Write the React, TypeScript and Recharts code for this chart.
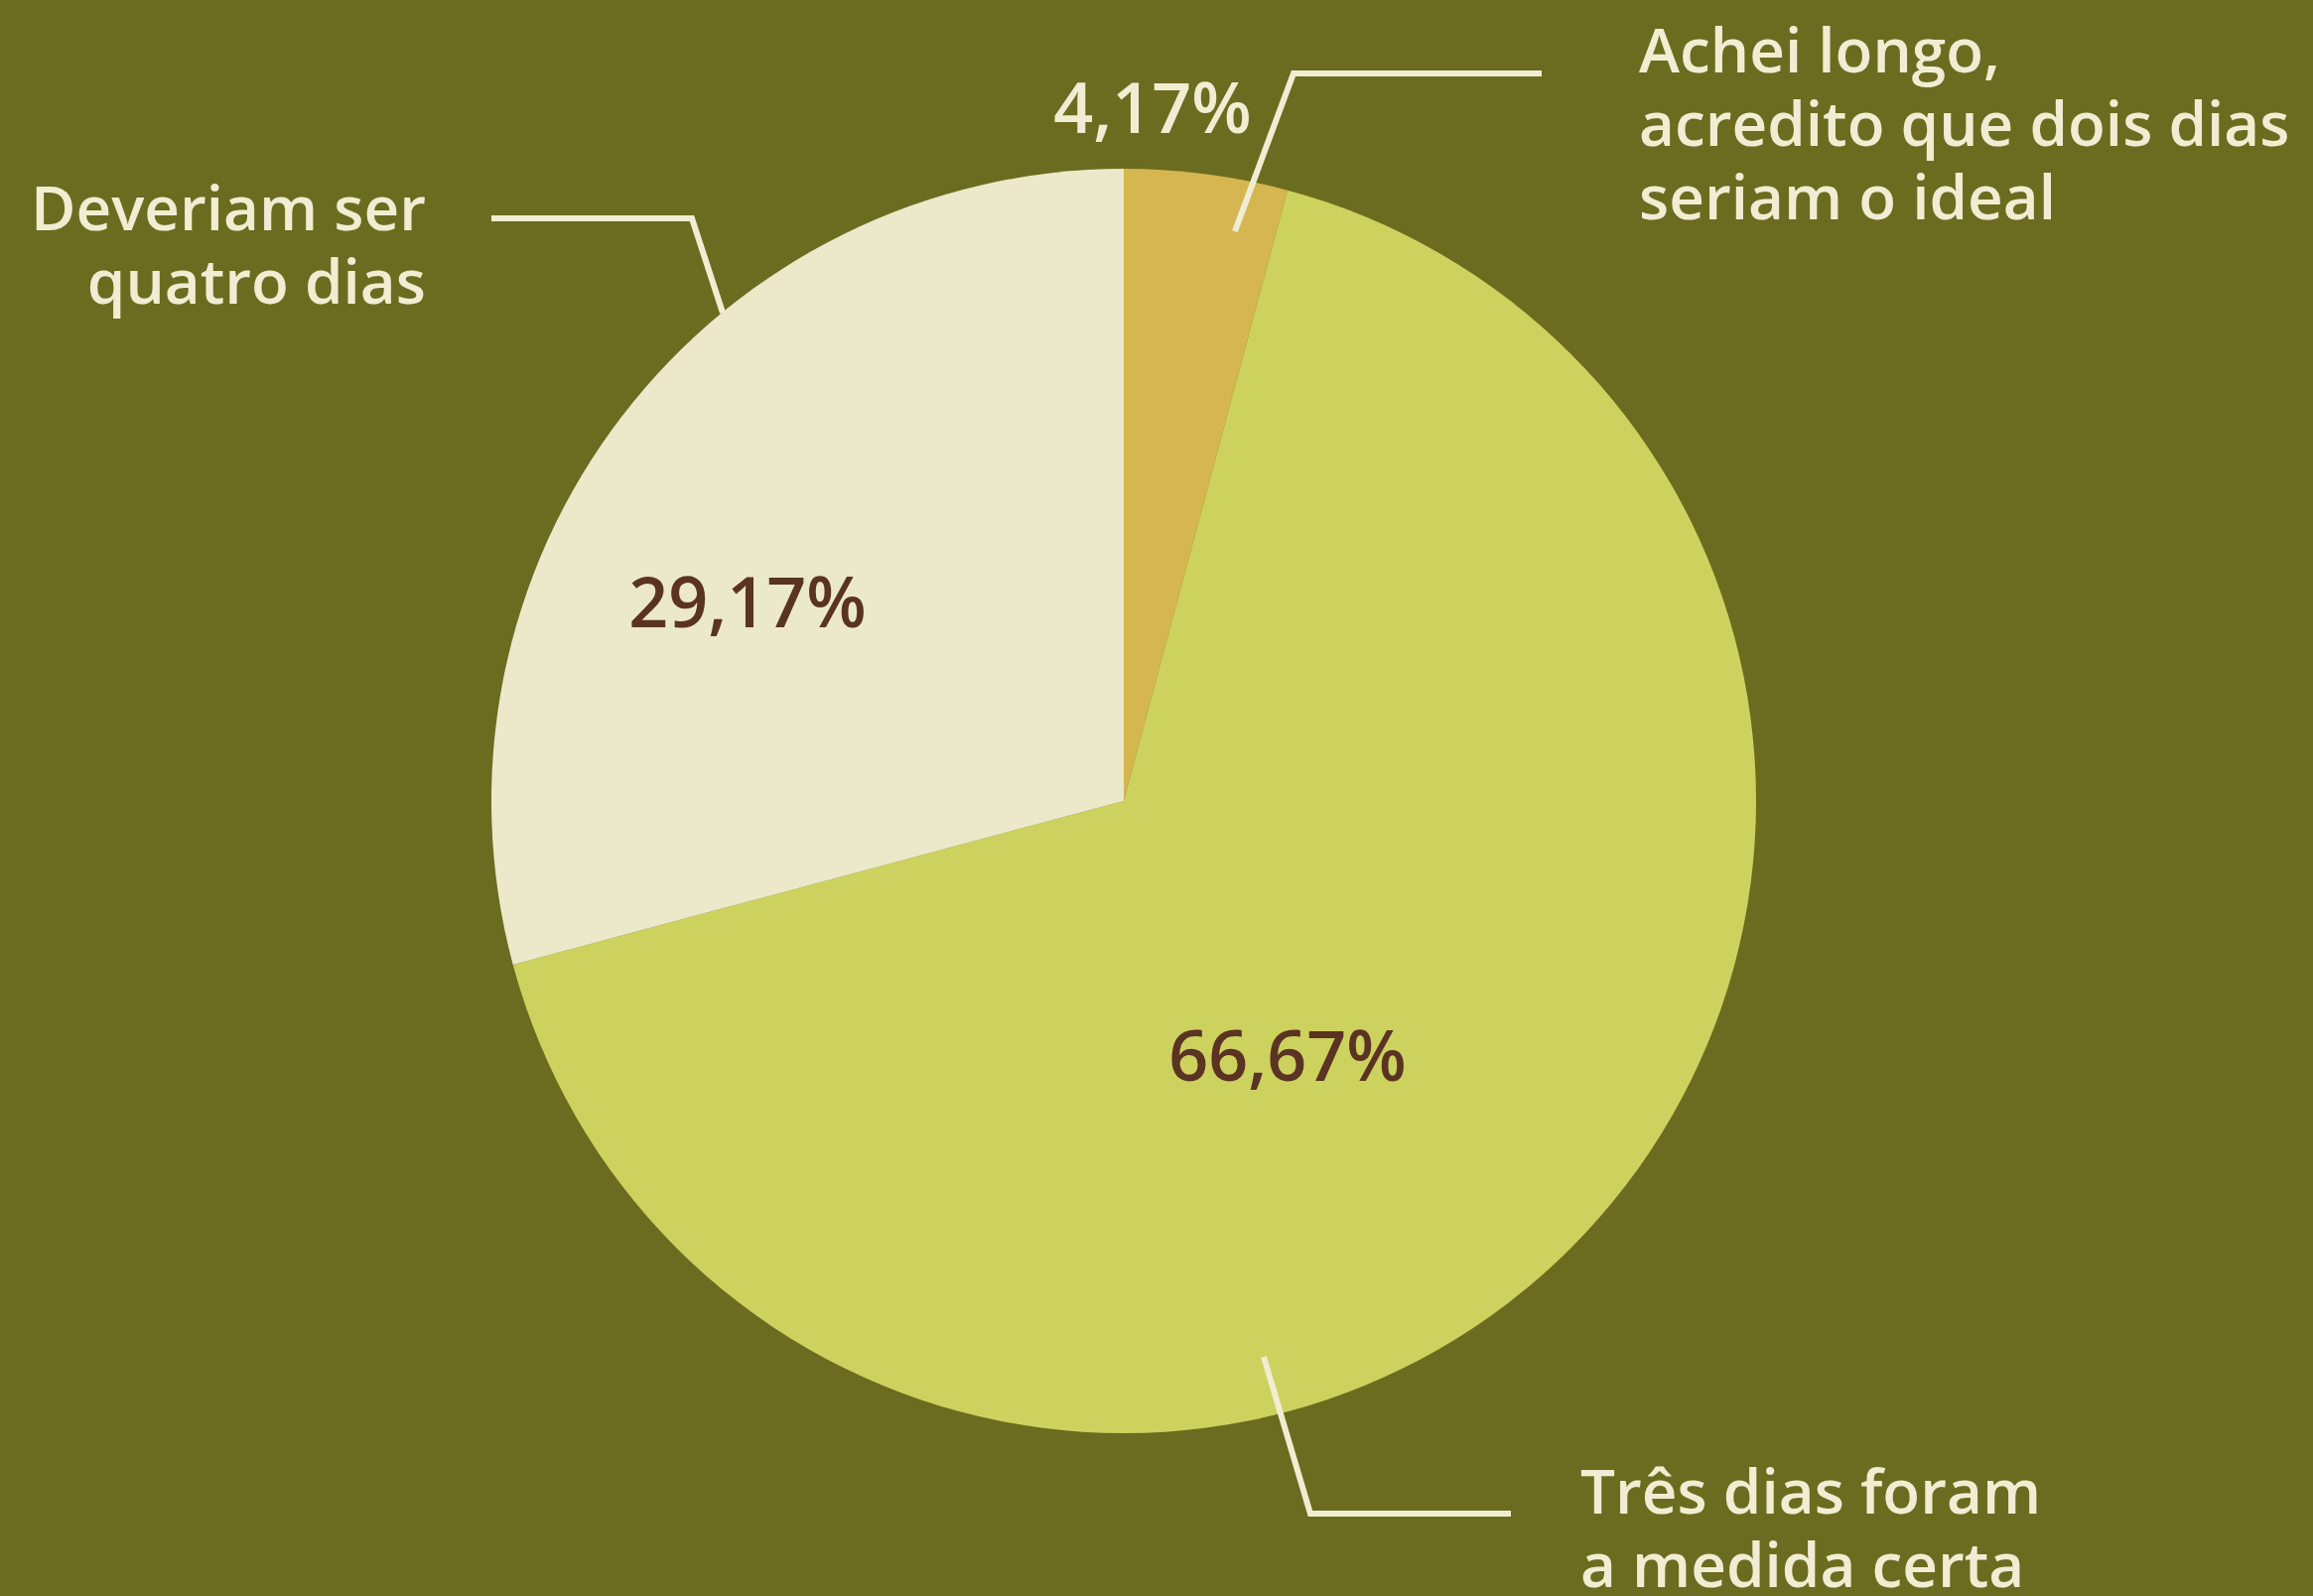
import React from 'react';
import { PieChart, Pie, Cell } from 'recharts';

const categories = [
  'Achei longo, acredito que dois dias seriam o ideal',
  'Três dias foram a medida certa',
  'Deveriam ser quatro dias',
];
const categoryLines = [
  ['Achei longo,', 'acredito que dois dias', 'seriam o ideal'],
  ['Três dias foram', 'a medida certa'],
  ['Deveriam ser', 'quatro dias'],
];
const shares = [4.17, 66.67, 29.17];
const shareLabels = ['4,17%', '66,67%', '29,17%'];

const sliceColors = ['#d5b650', '#cdd25f', '#ebe9ca'];
const BG = '#6b6c1f';
const CREAM = '#f1edd3';
const BROWN = '#5a3322';
const FONT = '"Open Sans", "Noto Sans", sans-serif';

// label placement relative to pie centre (pixels)
const labelLayout = [
  {
    pct: { x: 29, y: -673, color: CREAM },
    leader: [[112, -574], [171, -733], [421, -733]],
    text: { x: 519, y: -734, anchor: 'start' },
  },
  {
    pct: { x: 165, y: 282, color: BROWN },
    leader: [[141, 560], [188, 718], [390, 718]],
    text: { x: 460, y: 718, anchor: 'start' },
  },
  {
    pct: { x: -379, y: -175, color: BROWN },
    leader: [[-404, -492], [-435, -587], [-637, -587]],
    text: { x: -703, y: -575, anchor: 'end' },
  },
];

const chartData = categories.map((name, i) => ({ name, value: shares[i] }));

const renderLabel = (props: any) => {
  const { cx, cy, index } = props;
  const l = labelLayout[index];
  const pts = l.leader.map(([dx, dy]) => `${cx + dx},${cy + dy}`).join(' ');
  return (
    <g key={`lbl-${index}`}>
      <polyline points={pts} fill="none" stroke={CREAM} strokeWidth={6} />
      <text
        x={cx + l.pct.x}
        y={cy + l.pct.y}
        textAnchor="middle"
        fill={l.pct.color}
        fontFamily={FONT}
        fontWeight={600}
        fontSize={70}
      >
        {shareLabels[index]}
      </text>
      <text
        x={cx + l.text.x}
        y={cy + l.text.y}
        textAnchor={l.text.anchor as any}
        fill={CREAM}
        fontFamily={FONT}
        fontWeight={600}
        fontSize={62}
      >
        {categoryLines[index].map((line, j) => (
          <tspan key={j} x={cx + l.text.x} dy={j === 0 ? 0 : 74}>
            {line}
          </tspan>
        ))}
      </text>
    </g>
  );
};

export default function App() {
  return (
    <div style={{ position: 'absolute', left: 0, top: 0, width: 2330, height: 1608, background: BG, overflow: 'hidden' }}>
      <PieChart width={2330} height={1608} margin={{ top: 0, right: 0, bottom: 0, left: 0 }}>
        <Pie
          data={chartData}
          dataKey="value"
          nameKey="name"
          cx={1132}
          cy={807}
          outerRadius={637}
          startAngle={90}
          endAngle={-270}
          stroke="none"
          label={renderLabel}
          labelLine={false}
          isAnimationActive={false}
        >
          {chartData.map((d, i) => (
            <Cell key={d.name} fill={sliceColors[i]} />
          ))}
        </Pie>
      </PieChart>
    </div>
  );
}
